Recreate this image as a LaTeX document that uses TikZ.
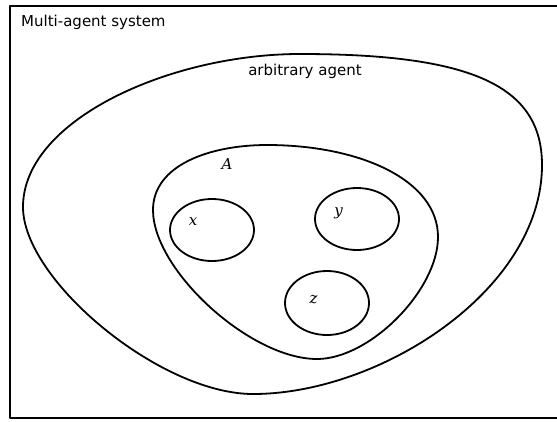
\documentclass[tikz,border=0pt]{standalone}
\usepackage{fontspec}
\setmainfont{DejaVu Sans}
\newfontfamily\myserif{DejaVu Serif}
\begin{document}
\begin{tikzpicture}[x=1pt,y=-1pt,
  curve/.style={line width=1.8pt, line join=round},
  lbl/.style={font=\fontsize{15}{18}\selectfont, inner sep=0pt},
  mlbl/.style={font=\myserif\itshape\fontsize{15}{18}\selectfont, inner sep=0pt, anchor=base}]
\useasboundingbox (0,0) rectangle (557,421);
% frame
\draw[curve] (557,6) -- (10,6) -- (10,418) -- (557,418);
\node[lbl, anchor=west] (mas) at (21,22) {Multi-agent system};
% outer blob
\draw[curve] (300,54) .. controls (470,54) and (542,85) .. (542,165)
  .. controls (542,290) and (380,394) .. (253,394)
  .. controls (160,394) and (23,280) .. (23,207)
  .. controls (23,120) and (170,54) .. (300,54) -- cycle;
\node[lbl] (arb) at (305,71) {arbitrary agent};
% inner blob A
\draw[curve] (267,145) .. controls (360,145) and (438,180) .. (438,237)
  .. controls (438,290) and (370,359) .. (317,359)
  .. controls (250,359) and (153,270) .. (153,210)
  .. controls (153,165) and (210,145) .. (267,145) -- cycle;
\node[mlbl] (A) at (227,169) {A};
% agents
\draw[curve] (212,230) ellipse [x radius=42, y radius=31];
\draw[curve] (357,219) ellipse [x radius=42, y radius=31];
\draw[curve] (327,303) ellipse [x radius=42, y radius=32];
\node[mlbl] (x) at (193,225) {x};
\node[mlbl] (y) at (338.5,215) {y};
\node[mlbl] (z) at (313.5,303) {z};
\end{tikzpicture}
\end{document}
